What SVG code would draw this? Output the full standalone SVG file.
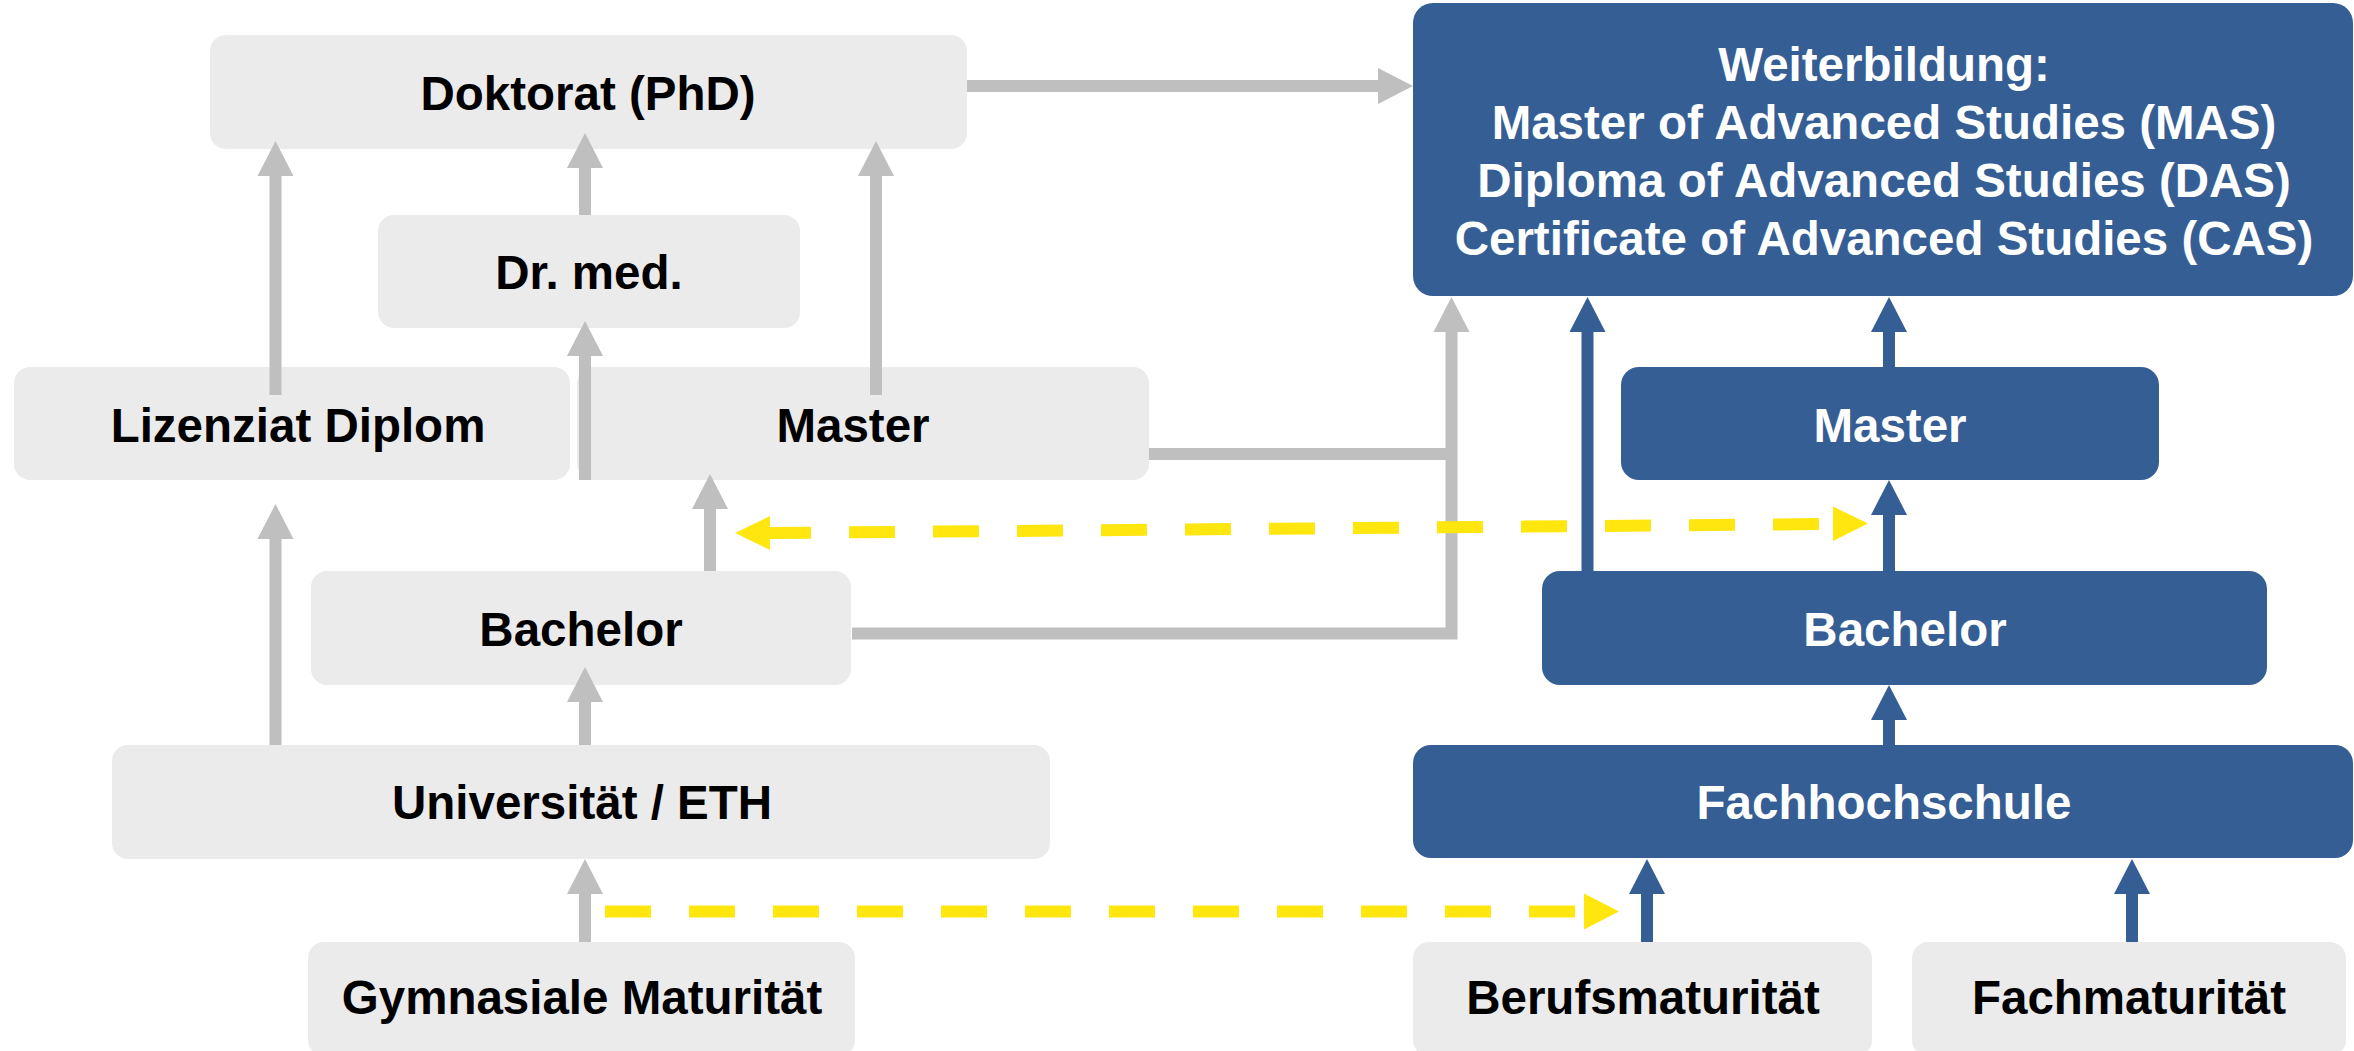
<svg xmlns="http://www.w3.org/2000/svg" width="2354" height="1051" viewBox="0 0 2354 1051">
<style>
.g{fill:#EBEBEB}
.b{fill:#355E95}
.t{font-family:"Liberation Sans",Arial,sans-serif;font-weight:bold;font-size:47.5px;text-anchor:middle}
.tk{fill:#000}
.tw{fill:#FFF}
.cg{stroke:#BFBFBF;stroke-width:12;fill:none;stroke-linejoin:miter}
.cb{stroke:#355E95;stroke-width:12;fill:none}
.cy{stroke:#FFE60F;stroke-width:12;fill:none;stroke-dasharray:46 38}
</style>
<defs>
<marker id="ag" markerUnits="userSpaceOnUse" markerWidth="36" markerHeight="36" refX="0" refY="18" orient="auto" overflow="visible"><path d="M0,0 L35,18 L0,36 z" fill="#BFBFBF"/></marker>
<marker id="ab" markerUnits="userSpaceOnUse" markerWidth="36" markerHeight="36" refX="0" refY="18" orient="auto" overflow="visible"><path d="M0,0 L35,18 L0,36 z" fill="#355E95"/></marker>
<marker id="ay" markerUnits="userSpaceOnUse" markerWidth="36" markerHeight="36" refX="0" refY="18" orient="auto" overflow="visible"><path d="M0,0 L35,18 L0,36 z" fill="#FFE60F"/></marker>
</defs>
<rect width="2354" height="1051" fill="#FFFFFF"/>
<g id="n-doktorat"><rect class="g" x="210" y="35" width="757" height="114" rx="16"/><text class="t tk" x="588" y="110">Doktorat (PhD)</text></g>
<g id="n-drmed"><rect class="g" x="378" y="215" width="422" height="113" rx="16"/><text class="t tk" x="589" y="289">Dr. med.</text></g>
<g id="n-lizenziat"><rect class="g" x="14" y="367" width="556" height="113" rx="16"/><text class="t tk" x="298" y="442">Lizenziat Diplom</text></g>
<g id="n-master-uni"><rect class="g" x="577" y="367" width="572" height="113" rx="16"/><text class="t tk" x="853" y="442">Master</text></g>
<g id="n-bachelor-uni"><rect class="g" x="311" y="571" width="540" height="114" rx="16"/><text class="t tk" x="581" y="646">Bachelor</text></g>
<g id="n-uni"><rect class="g" x="112" y="745" width="938" height="114" rx="16"/><text class="t tk" x="582" y="819">Universität / ETH</text></g>
<g id="n-gym"><rect class="g" x="308" y="942" width="547" height="114" rx="16"/><text class="t tk" x="582" y="1014">Gymnasiale Maturität</text></g>
<g id="n-weiter"><rect class="b" x="1413" y="3" width="940" height="293" rx="20"/>
<text class="t tw" x="1884" y="81">Weiterbildung:</text>
<text class="t tw" x="1884" y="139">Master of Advanced Studies (MAS)</text>
<text class="t tw" x="1884" y="197">Diploma of Advanced Studies (DAS)</text>
<text class="t tw" x="1884" y="255">Certificate of Advanced Studies (CAS)</text></g>
<g id="n-master-fh"><rect class="b" x="1621" y="367" width="538" height="113" rx="18"/><text class="t tw" x="1890" y="442">Master</text></g>
<g id="n-bachelor-fh"><rect class="b" x="1542" y="571" width="725" height="114" rx="18"/><text class="t tw" x="1905" y="646">Bachelor</text></g>
<g id="n-fh"><rect class="b" x="1413" y="745" width="940" height="113" rx="18"/><text class="t tw" x="1884" y="819">Fachhochschule</text></g>
<g id="n-beruf"><rect class="g" x="1413" y="942" width="459" height="114" rx="16"/><text class="t tk" x="1643" y="1014">Berufsmaturität</text></g>
<g id="n-fachm"><rect class="g" x="1912" y="942" width="434" height="114" rx="16"/><text class="t tk" x="2129" y="1014">Fachmaturität</text></g>
<g id="connectors">
<path class="cg" d="M275.5,395 V176" marker-end="url(#ag)"/>
<path class="cg" d="M585,215 V168" marker-end="url(#ag)"/>
<path class="cg" d="M876,395 V176" marker-end="url(#ag)"/>
<path class="cg" d="M585,480 V356" marker-end="url(#ag)"/>
<path class="cg" d="M275.5,745 V539" marker-end="url(#ag)"/>
<path class="cg" d="M710,571 V509" marker-end="url(#ag)"/>
<path class="cg" d="M585,745 V702" marker-end="url(#ag)"/>
<path class="cg" d="M585,942 V894" marker-end="url(#ag)"/>
<path class="cg" d="M967,86 H1378" marker-end="url(#ag)"/>
<path class="cg" d="M1149,454 H1451.5"/>
<path class="cg" d="M852,633.5 H1451.5 V332" marker-end="url(#ag)"/>
<path class="cb" d="M1587.5,571 V332" marker-end="url(#ab)"/>
<path class="cb" d="M1889,367 V332" marker-end="url(#ab)"/>
<path class="cb" d="M1889,571 V515" marker-end="url(#ab)"/>
<path class="cb" d="M1889,745 V720" marker-end="url(#ab)"/>
<path class="cb" d="M1647,942 V894" marker-end="url(#ab)"/>
<path class="cb" d="M2132,942 V894" marker-end="url(#ab)"/>
<path class="cy" d="M769,533 L1833,524" stroke-dashoffset="4"/>
<path d="M770,516 L735,533 L770,550 z" fill="#FFE60F"/>
<path d="M1833,506.5 L1868,523.5 L1833,541 z" fill="#FFE60F"/>
<path class="cy" d="M605,911.5 H1584" marker-end="url(#ay)"/>
</g>
</svg>
